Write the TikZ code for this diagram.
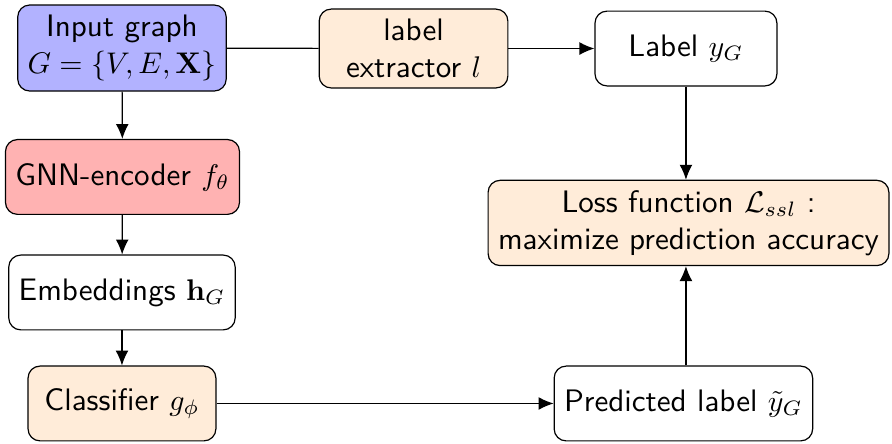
\documentclass[tikz,border=0pt]{standalone}
\usepackage{amsmath}
\usetikzlibrary{arrows.meta}
\tikzset{
    block/.style={draw, rounded corners=4pt, align=center, minimum height=0.88cm,
        font=\fontsize{10.4}{12.4}\selectfont\sffamily},
}
\begin{document}
\begin{tikzpicture}[>={Latex[length=5pt,width=4.3pt]}]
    \useasboundingbox (0,0) rectangle (10.494,-5.223);
    % Các khối bên trái
    \node[block, fill=blue!30] (input) at (1.435,-0.565) {Input graph\\ $G=\{V,E,\mathbf{X}\}$};
    \node[block, fill=red!30] (gnn) at (1.441,-2.082) {GNN-encoder $f_\theta$};
    \node[block] (emb) at (1.435,-3.441) {Embeddings $\mathbf{h}_G$};
    \node[block, fill=orange!15, minimum width=2.21cm] (cls) at (1.435,-4.747) {Classifier $g_\phi$};
    
    % Các khối bên phải
    \node[block, fill=orange!15, minimum width=2.22cm] (extract) at (4.865,-0.571) {label\\ extractor $l$};
    \node[block, minimum width=2.14cm] (label) at (8.07,-0.571) {Label $y_G$};
    \node[block, fill=orange!15] (loss) at (8.10,-2.623) {Loss function $\mathcal{L}_{ssl}$ :\\ maximize prediction accuracy};
    \node[block] (pred) at (8.04,-4.747) {Predicted label $\tilde{y}_G$};
    
    % Mũi tên
    \draw[->] (input) -- (gnn);
    \draw[->] (gnn) -- (emb);
    \draw[->] (emb) -- (cls);
    \draw[->] (cls) -- (pred);
    \draw (input) -- (extract);
    \draw[->] (extract) -- (label);
    \draw[->] (label) -- (label |- loss.north);
    \draw[->] (label |- pred.north) -- (label |- loss.south);
\end{tikzpicture}
\end{document}
